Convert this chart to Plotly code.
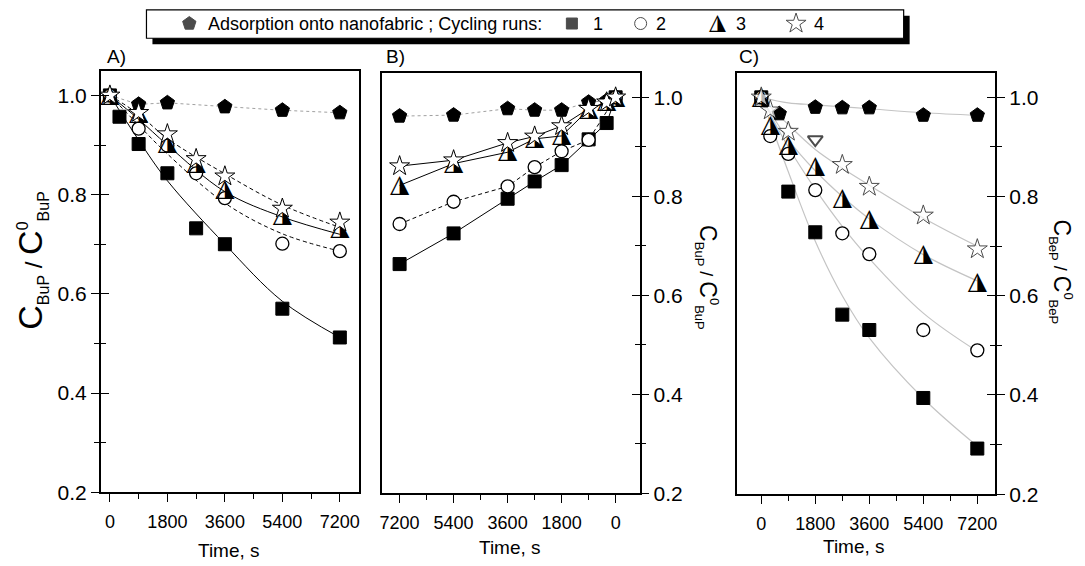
import plotly.graph_objects as go

W, H = 1085, 566
FONT = "Liberation Sans, Arial, sans-serif"

# ---------------- Panel A data (time, s ; C/C0 BuP) ----------------
a_t_pent = [0, 900, 1800, 3600, 5400, 7200]
a_pent = [1.0, 0.982, 0.985, 0.977, 0.970, 0.965]
a_t_run1 = [0, 300, 900, 1800, 2700, 3600, 5400, 7200]
a_run1 = [1.0, 0.957, 0.902, 0.843, 0.732, 0.700, 0.570, 0.512]
a_t_runs = [0, 900, 1800, 2700, 3600, 5400, 7200]
a_run2 = [1.0, 0.933, 0.899, 0.843, 0.793, 0.701, 0.686]
a_run3 = [1.0, 0.962, 0.902, 0.862, 0.810, 0.757, 0.731]
a_run4 = [1.0, 0.965, 0.922, 0.872, 0.837, 0.772, 0.744]
# fitted curves
a_fit_t = [0, 900, 1800, 3600, 5400, 7200]
a_fit1 = [1.0, 0.910, 0.828, 0.700, 0.585, 0.512]
a_fit2 = [1.0, 0.940, 0.882, 0.783, 0.721, 0.686]
a_fit3 = [1.0, 0.952, 0.900, 0.806, 0.755, 0.720]
a_fit4 = [1.0, 0.962, 0.913, 0.842, 0.779, 0.734]

# ---------------- Panel B data (reversed time axis) ----------------
b_t = [7200, 5400, 3600, 2700, 1800, 900, 300, 0]
b_pent = [0.962, 0.964, 0.977, 0.974, 0.974, 0.990, 0.993, 1.0]
b_run1 = [0.663, 0.725, 0.795, 0.830, 0.863, 0.915, 0.948, 1.0]
b_t2 = [7200, 5400, 3600, 2700, 1800, 900, 0]
b_run2 = [0.744, 0.789, 0.820, 0.859, 0.891, 0.914, 1.0]
b_run3 = [0.822, 0.866, 0.889, 0.916, 0.922, 0.975, 0.990, 1.0]
b_run4 = [0.861, 0.873, 0.908, 0.921, 0.942, 0.977, 0.990, 1.0]

# ---------------- Panel C data (C/C0 BeP) ----------------
c_t_pent = [0, 600, 1800, 2700, 3600, 5400, 7200]
c_pent = [1.0, 0.967, 0.980, 0.979, 0.979, 0.964, 0.964]
c_t_run1 = [0, 900, 1800, 2700, 3600, 5400, 7200]
c_run1 = [1.0, 0.810, 0.728, 0.562, 0.531, 0.394, 0.292]
c_t_runs = [0, 300, 900, 1800, 2700, 3600, 5400, 7200]
c_run2 = [1.0, 0.922, 0.886, 0.813, 0.726, 0.684, 0.531, 0.490]
c_run3 = [1.0, 0.942, 0.903, 0.861, 0.795, 0.753, 0.683, 0.627]
c_run4 = [1.0, 0.974, 0.931, 0.915, 0.864, 0.820, 0.762, 0.694]
c_run4_symbols = ["star", "star", "star", "triangle-down", "star", "star", "star", "star"]
c_fit_t = [0, 900, 1800, 2700, 3600, 5400, 7200]
c_fit_pent = [1.0, 0.989, 0.985, 0.981, 0.977, 0.969, 0.964]
c_fit1 = [1.0, 0.850, 0.710, 0.600, 0.515, 0.393, 0.297]
c_fit2 = [1.0, 0.900, 0.815, 0.740, 0.675, 0.565, 0.488]
c_fit3 = [1.0, 0.915, 0.852, 0.800, 0.755, 0.683, 0.630]
c_fit4 = [1.0, 0.945, 0.895, 0.857, 0.823, 0.757, 0.700]

x_ticks = [0, 1800, 3600, 5400, 7200]
x_minor = [900, 2700, 4500, 6300]
y_ticks = [0.2, 0.4, 0.6, 0.8, 1.0]
y_ticktext = ["0.2", "0.4", "0.6", "0.8", "1.0"]
y_minor = [0.3, 0.5, 0.7, 0.9]

legend_labels = ["Adsorption onto nanofabric ; Cycling runs:", "1", "2", "3", "4"]
HALF_TRI = "\u25EE"

fig = go.Figure()


def line(x, y, xa, ya, color="black", dash="solid", width=1.0, shape="linear"):
    fig.add_trace(go.Scatter(x=x, y=y, xaxis=xa, yaxis=ya, mode="lines",
                             line=dict(color=color, dash=dash, width=width, shape=shape,
                                       smoothing=1.0),
                             showlegend=False, hoverinfo="skip"))


def mk(x, y, xa, ya, symbol, size, fill="black", lw=1.0):
    fig.add_trace(go.Scatter(x=x, y=y, xaxis=xa, yaxis=ya, mode="markers",
                             marker=dict(symbol=symbol, size=size, color=fill,
                                         line=dict(color="black", width=lw)),
                             showlegend=False, hoverinfo="skip"))


def halftri(x, y, xa, ya, size=25):
    fig.add_trace(go.Scatter(x=x, y=y, xaxis=xa, yaxis=ya, mode="text",
                             text=[HALF_TRI] * len(x), textposition="middle center",
                             textfont=dict(family="DejaVu Sans", size=size, color="black"),
                             showlegend=False, hoverinfo="skip"))


GREY_DASH = "#a0a0a0"
# ---- Panel A ----
line(a_t_pent, a_pent, "x", "y", color=GREY_DASH, dash="3px,3px", width=1)
line(a_fit_t, a_fit1, "x", "y", shape="spline")
line(a_fit_t, a_fit2, "x", "y", dash="4px,3px", shape="spline")
line(a_fit_t, a_fit3, "x", "y", shape="spline")
line(a_fit_t, a_fit4, "x", "y", dash="4px,3px", shape="spline")
mk(a_t_pent, a_pent, "x", "y", "pentagon", 15)
mk(a_t_run1, a_run1, "x", "y", "square", 13)
mk(a_t_runs, a_run2, "x", "y", "circle", 13, fill="white", lw=1.3)
halftri(a_t_runs, a_run3, "x", "y")
mk(a_t_runs, a_run4, "x", "y", "star", 15, fill="white", lw=1.0)

# ---- Panel B ----
line(b_t, b_pent, "x2", "y2", color=GREY_DASH, dash="3px,3px", width=1)
line(b_t, b_run1, "x2", "y2")
line(b_t2, b_run2, "x2", "y2", dash="4px,3px")
line(b_t, b_run3, "x2", "y2")
line(b_t, b_run4, "x2", "y2")
mk(b_t, b_pent, "x2", "y2", "pentagon", 15)
mk(b_t, b_run1, "x2", "y2", "square", 13)
mk(b_t2, b_run2, "x2", "y2", "circle", 13, fill="white", lw=1.3)
halftri(b_t, b_run3, "x2", "y2")
mk(b_t, b_run4, "x2", "y2", "star", 15, fill="white", lw=1.0)

# ---- Panel C ----
GREY = "#c4c4c4"
line(c_fit_t, c_fit_pent, "x3", "y3", color=GREY, width=1.2, shape="spline")
line(c_fit_t, c_fit1, "x3", "y3", color=GREY, width=1.2, shape="spline")
line(c_fit_t, c_fit2, "x3", "y3", color=GREY, width=1.2, shape="spline")
line(c_fit_t, c_fit3, "x3", "y3", color=GREY, width=1.2, shape="spline")
line(c_fit_t, c_fit4, "x3", "y3", color=GREY, width=1.2, shape="spline")
mk(c_t_pent, c_pent, "x3", "y3", "pentagon", 15)
mk(c_t_run1, c_run1, "x3", "y3", "square", 13)
mk(c_t_runs, c_run2, "x3", "y3", "circle", 13, fill="white", lw=1.3)
halftri(c_t_runs, c_run3, "x3", "y3")
fig.add_trace(go.Scatter(x=c_t_runs, y=c_run4, xaxis="x3", yaxis="y3", mode="markers",
                         marker=dict(symbol=c_run4_symbols,
                                     size=[15 if s == "star" else 13 for s in c_run4_symbols],
                                     color="white",
                                     line=dict(color="black",
                                               width=[1.0 if s == "star" else 2.0 for s in c_run4_symbols])),
                         showlegend=False, hoverinfo="skip"))

# dummy traces for overlay (inner tick) axes
for ya, xa in (("y4", "x"), ("y5", "x2"), ("y6", "x3")):
    fig.add_trace(go.Scatter(x=[None], y=[None], xaxis=xa, yaxis=ya, mode="markers",
                             showlegend=False, hoverinfo="skip"))

# ---- manual legend glyphs (on a pixel-space overlay axis) ----
legend_glyph_x = [188, 572, 641, 718, 797]
legend_y = 24
fig.add_trace(go.Scatter(x=legend_glyph_x[:3] + legend_glyph_x[4:], y=[legend_y] * 4,
                         xaxis="x7", yaxis="y7", mode="markers",
                         marker=dict(symbol=["pentagon", "square", "circle", "star"],
                                     size=[14, 11, 12, 15],
                                     color=["black", "black", "white", "white"],
                                     line=dict(color="black", width=1.0)),
                         showlegend=False, hoverinfo="skip"))
fig.add_trace(go.Scatter(x=[legend_glyph_x[3]], y=[legend_y], xaxis="x7", yaxis="y7",
                         mode="text", text=[HALF_TRI], textposition="middle center",
                         textfont=dict(family="DejaVu Sans", size=22, color="black"),
                         showlegend=False, hoverinfo="skip"))

TICKC = dict(tickcolor="black", tickwidth=1.3)


def xaxis(dom, rng, anchor):
    return dict(domain=[dom[0] / W, dom[1] / W], range=rng, anchor=anchor,
                tickmode="array", tickvals=x_ticks, ticks="outside", ticklen=8, **TICKC,
                minor=dict(tickmode="array", tickvals=x_minor, ticks="outside", ticklen=5,
                           tickcolor="black", tickwidth=1.3),
                showline=True, linecolor="black", linewidth=1.5, mirror=True,
                showgrid=False, zeroline=False, ticklabelstandoff=4,
                tickfont=dict(family=FONT, size=18, color="black"))


def yaxis(dom, anchor, side, ticks="outside", labels=True, overlay=None):
    d = dict(range=[0.2, 1.05], anchor=anchor, side=side,
             tickmode="array", tickvals=y_ticks, ticktext=y_ticktext,
             ticks=ticks, ticklen=8, **TICKC,
             minor=dict(tickmode="array", tickvals=y_minor, ticks=ticks, ticklen=5,
                        tickcolor="black", tickwidth=1.3),
             showgrid=False, zeroline=False, showticklabels=labels,
             tickfont=dict(family=FONT, size=21, color="black"))
    if overlay:
        d.update(overlaying=overlay, showline=False)
    else:
        d.update(domain=[1 - dom[1] / H, 1 - dom[0] / H], showline=True,
                 linecolor="black", linewidth=1.5, mirror=True)
    return d


def tot(size_c, size_s, size_sl, sub):
    c = f"<span style='font-size:{size_c}px'>C</span>"
    s = f"<sub><span style='font-size:{size_s}px'>{sub}</span></sub>"
    sl = f"<span style='font-size:{size_sl}px'> / </span>"
    z = f"<sup><span style='font-size:{size_s}px'>0</span></sup>"
    return c + s + sl + c + z + s


annotations = []


def ann(text, px, py, size=18, angle=0, xanchor="center"):
    annotations.append(dict(text=text, x=px / W, y=1 - py / H, xref="paper", yref="paper",
                            showarrow=False, textangle=angle, xanchor=xanchor,
                            yanchor="middle", font=dict(family=FONT, size=size, color="black")))


ann("A)", 103, 58, 19, xanchor="left")
ann("B)", 383, 58, 19, xanchor="left")
ann("C)", 738, 58, 19, xanchor="left")
ann("Time, s", 228, 561, 19)
ann("Time, s", 510, 558, 19)
ann("Time, s", 855, 557, 19)
ann(tot(34, 16, 24, "BuP"), 30, 265, 34, angle=-90)
ann(tot(23, 13, 18, "BuP"), 708, 283, 23, angle=90)
ann(tot(23, 13, 18, "BeP"), 1063, 277, 23, angle=90)
ann(legend_labels[0], 205, 24, 18, xanchor="left")
for lbl, px in zip(legend_labels[1:], [598, 661, 742, 820]):
    ann(lbl, px, 24, 18)

shapes = [
    dict(type="rect", xref="paper", yref="paper", x0=151 / W, x1=911 / W,
         y0=1 - 45 / H, y1=1 - 16 / H, fillcolor="black", line=dict(width=0), layer="below"),
    dict(type="rect", xref="paper", yref="paper", x0=145 / W, x1=905 / W,
         y0=1 - 39 / H, y1=1 - 10 / H, fillcolor="white", line=dict(color="black", width=1.2),
         layer="below"),
]

fig.update_layout(
    width=W, height=H, margin=dict(l=0, r=0, t=0, b=0),
    paper_bgcolor="white", plot_bgcolor="rgba(0,0,0,0)",
    showlegend=False,
    font=dict(family=FONT, color="black"),
    xaxis=xaxis((99, 358), [-290, 7790], "y"),
    yaxis=yaxis((72, 502), "x", "left"),
    xaxis2=xaxis((381, 640), [7800, -800], "y2"),
    yaxis2=yaxis((74, 503), "x2", "right"),
    xaxis3=xaxis((738, 997), [-800, 7800], "y3"),
    yaxis3=yaxis((74, 504), "x3", "right"),
    yaxis4=yaxis(None, "x", "left", ticks="inside", labels=False, overlay="y"),
    yaxis5=yaxis(None, "x2", "right", ticks="inside", labels=False, overlay="y2"),
    yaxis6=yaxis(None, "x3", "right", ticks="inside", labels=False, overlay="y3"),
    xaxis7=dict(domain=[0, 1], range=[0, W], anchor="y7", visible=False),
    yaxis7=dict(domain=[0, 1], range=[H, 0], anchor="x7", visible=False),
    annotations=annotations, shapes=shapes,
)

fig.write_html("out.html")
